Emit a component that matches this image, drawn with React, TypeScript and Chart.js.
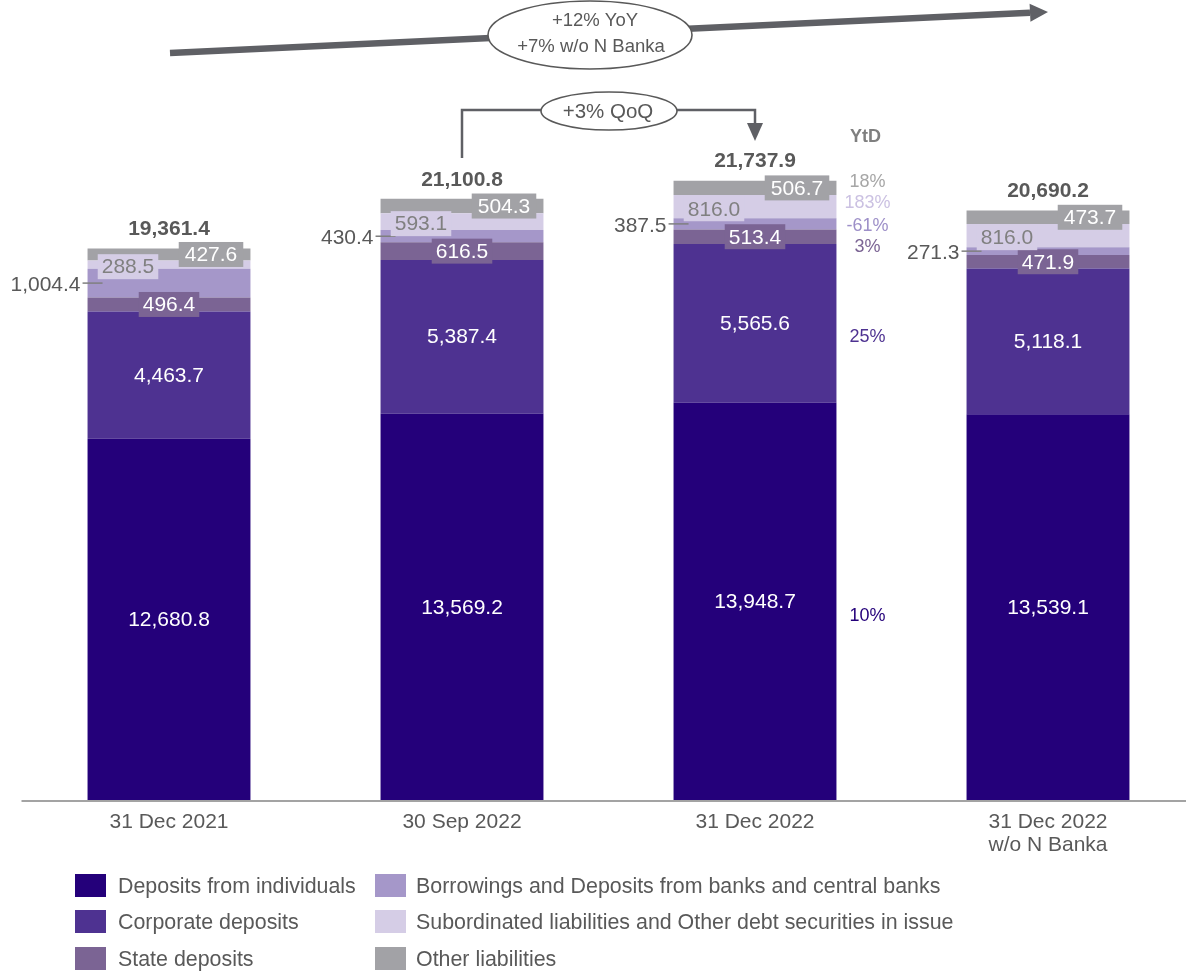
import React, { useEffect, useRef } from "react";
import { Chart, registerables } from "chart.js";

Chart.register(...registerables);

const categories = [["31 Dec 2021"], ["30 Sep 2022"], ["31 Dec 2022"], ["31 Dec 2022", "w/o N Banka"]];
const seriesNames = [
  "Deposits from individuals",
  "Corporate deposits",
  "State deposits",
  "Borrowings and Deposits from banks and central banks",
  "Subordinated liabilities and Other debt securities in issue",
  "Other liabilities",
];
const individuals = [12680.8, 13569.2, 13948.7, 13539.1];
const corporate = [4463.7, 5387.4, 5565.6, 5118.1];
const stateDeposits = [496.4, 616.5, 513.4, 471.9];
const borrowings = [1004.4, 430.4, 387.5, 271.3];
const subordinated = [288.5, 593.1, 816.0, 816.0];
const otherLiabilities = [427.6, 504.3, 506.7, 473.7];
const totals = [19361.4, 21100.8, 21737.9, 20690.2];
const ytdLabels = ["10%", "25%", "3%", "-61%", "183%", "18%"];
const yoyText = ["+12% YoY", "+7% w/o N Banka"];
const qoqText = "+3% QoQ";
const ytdTitle = "YtD";

const seriesColors = ["#24007a", "#4e3291", "#7b6494", "#a597c9", "#d5cde6", "#a2a2a6"];
const ytdColors = ["#24007a", "#4e3291", "#7b6494", "#9d8fc8", "#cbc1e2", "#a6a6a6"];
const ytdOffsets = [15, 14, 10, 2, -4, -6];

const FONT = "'Liberation Sans', Arial, sans-serif";
const GREY = "#595959";

const fmt = (v: number) =>
  v.toLocaleString("en-US", { minimumFractionDigits: 1, maximumFractionDigits: 1 });

function boxLabel(ctx: CanvasRenderingContext2D, text: string, cx: number, cy: number, bg: string, fg: string, pad: number) {
  ctx.font = `21px ${FONT}`;
  const w = ctx.measureText(text).width + pad;
  const h = 25;
  ctx.fillStyle = bg;
  ctx.fillRect(cx - w / 2, cy - h / 2, w, h);
  ctx.fillStyle = fg;
  ctx.textAlign = "center";
  ctx.textBaseline = "middle";
  ctx.fillText(text, cx, cy + 1);
}

function ellipse(ctx: CanvasRenderingContext2D, cx: number, cy: number, rx: number, ry: number) {
  ctx.beginPath();
  ctx.ellipse(cx, cy, rx, ry, 0, 0, Math.PI * 2);
  ctx.fillStyle = "#ffffff";
  ctx.fill();
  ctx.lineWidth = 1.6;
  ctx.strokeStyle = GREY;
  ctx.stroke();
}

const labelPlugin = {
  id: "customLabels",
  afterDatasetsDraw(chart: any) {
    const ctx: CanvasRenderingContext2D = chart.ctx;
    const area = chart.chartArea;
    ctx.save();

    // axis line
    ctx.strokeStyle = "#a3a3a3";
    ctx.lineWidth = 2;
    ctx.beginPath();
    ctx.moveTo(area.left - 1, area.bottom + 1);
    ctx.lineTo(chart.width, area.bottom + 1);
    ctx.stroke();

    const metas = chart.data.datasets.map((_: any, i: number) => chart.getDatasetMeta(i));
    const n = categories.length;
    for (let j = 0; j < n; j++) {
      for (let i = 0; i < metas.length; i++) {
        const el = metas[i].data[j];
        const { x, y, base, width } = el.getProps(["x", "y", "base", "width"], true);
        const cy = (y + base) / 2;
        const val = chart.data.datasets[i].data[j] as number;
        const text = fmt(val);
        const left = x - width / 2;
        if (i === 0 || i === 1) {
          ctx.font = `21px ${FONT}`;
          ctx.fillStyle = "#ffffff";
          ctx.textAlign = "center";
          ctx.textBaseline = "middle";
          ctx.fillText(text, x, cy + 1);
        } else if (i === 2) {
          boxLabel(ctx, text, x, cy, seriesColors[2], "#ffffff", 8);
        } else if (i === 3) {
          ctx.strokeStyle = "#7f7f7f";
          ctx.lineWidth = 1.5;
          ctx.beginPath();
          ctx.moveTo(left - 5, cy);
          ctx.lineTo(left + 15, cy);
          ctx.stroke();
          ctx.font = `21px ${FONT}`;
          ctx.fillStyle = GREY;
          ctx.textAlign = "right";
          ctx.textBaseline = "middle";
          ctx.fillText(text, left - 7, cy + 2);
        } else if (i === 4) {
          boxLabel(ctx, text, x - 41, cy + 2, seriesColors[4], "#808080", 8);
        } else if (i === 5) {
          boxLabel(ctx, text, x + 42, cy, seriesColors[5], "#ffffff", 12);
        }
      }
      // totals
      const topEl = metas[metas.length - 1].data[j];
      ctx.font = `bold 21px ${FONT}`;
      ctx.fillStyle = GREY;
      ctx.textAlign = "center";
      ctx.textBaseline = "middle";
      ctx.fillText(fmt(totals[j]), topEl.x, topEl.y - 19);
    }

    // YtD column next to the third bar
    const ref = metas[0].data[2];
    const ytdX = ref.x + ref.width / 2 + 31;
    ctx.font = `bold 18px ${FONT}`;
    ctx.fillStyle = "#7f7f7f";
    ctx.textAlign = "center";
    ctx.textBaseline = "middle";
    ctx.fillText(ytdTitle, ytdX - 2, 137);
    ctx.font = `18px ${FONT}`;
    for (let i = 0; i < metas.length; i++) {
      const el = metas[i].data[2];
      const cy = (el.y + el.base) / 2 + ytdOffsets[i];
      ctx.fillStyle = ytdColors[i];
      ctx.fillText(ytdLabels[i], ytdX, cy);
    }

    // YoY arrow
    const x0 = 170, y0 = 53, xt = 1048, yt = 12;
    const ang = Math.atan2(yt - y0, xt - x0);
    const headLen = 18, headW = 9;
    const bx = xt - headLen * Math.cos(ang), by = yt - headLen * Math.sin(ang);
    ctx.strokeStyle = "#5f6065";
    ctx.lineWidth = 6.5;
    ctx.lineCap = "butt";
    ctx.beginPath();
    ctx.moveTo(x0, y0);
    ctx.lineTo(bx, by);
    ctx.stroke();
    ctx.fillStyle = "#5f6065";
    ctx.beginPath();
    ctx.moveTo(xt, yt);
    ctx.lineTo(bx + headW * Math.sin(ang), by - headW * Math.cos(ang));
    ctx.lineTo(bx - headW * Math.sin(ang), by + headW * Math.cos(ang));
    ctx.closePath();
    ctx.fill();
    ellipse(ctx, 590, 35, 102, 34);
    ctx.font = `18.5px ${FONT}`;
    ctx.fillStyle = GREY;
    ctx.textAlign = "center";
    ctx.textBaseline = "middle";
    ctx.fillText(yoyText[0], 595, 21);
    ctx.fillText(yoyText[1], 591, 47);

    // QoQ bracket
    const q1 = metas[0].data[1].x;
    const q2 = metas[0].data[2].x;
    ctx.strokeStyle = "#5f6065";
    ctx.lineWidth = 2.5;
    ctx.beginPath();
    ctx.moveTo(q1, 158);
    ctx.lineTo(q1, 110);
    ctx.lineTo(q2, 110);
    ctx.lineTo(q2, 124);
    ctx.stroke();
    ctx.fillStyle = "#5f6065";
    ctx.beginPath();
    ctx.moveTo(q2 - 8, 123);
    ctx.lineTo(q2 + 8, 123);
    ctx.lineTo(q2, 141);
    ctx.closePath();
    ctx.fill();
    ellipse(ctx, 609, 111, 68, 19);
    ctx.font = `20.5px ${FONT}`;
    ctx.fillStyle = GREY;
    ctx.fillText(qoqText, 608, 112);

    // Legend
    const rows = [886, 922, 959];
    const cols = [{ sx: 75, tx: 118 }, { sx: 375, tx: 416 }];
    ctx.font = `21.4px ${FONT}`;
    ctx.textAlign = "left";
    for (let i = 0; i < seriesNames.length; i++) {
      const c = cols[Math.floor(i / 3)];
      const r = rows[i % 3];
      ctx.fillStyle = seriesColors[i];
      ctx.fillRect(c.sx, r - 12, 31, 23);
      ctx.fillStyle = GREY;
      ctx.textBaseline = "middle";
      ctx.fillText(seriesNames[i], c.tx, r + 1);
    }

    ctx.restore();
  },
};

export default function App() {
  const ref = useRef<HTMLCanvasElement | null>(null);
  useEffect(() => {
    if (!ref.current) return;
    const seriesValues = [individuals, corporate, stateDeposits, borrowings, subordinated, otherLiabilities];
    const chart = new Chart(ref.current, {
      type: "bar",
      data: {
        labels: categories,
        datasets: seriesValues.map((d, i) => ({
          label: seriesNames[i],
          data: d,
          backgroundColor: seriesColors[i],
          borderWidth: 0,
          categoryPercentage: 1,
          barPercentage: 0.556,
        })),
      },
      options: {
        animation: false,
        responsive: true,
        maintainAspectRatio: false,
        layout: { padding: { left: 22.5, right: 5.5, top: 0, bottom: 0 } },
        plugins: { legend: { display: false }, tooltip: { enabled: false } },
        scales: {
          x: {
            stacked: true,
            grid: { display: false, drawTicks: false },
            border: { display: false },
            ticks: {
              color: GREY,
              font: { family: FONT, size: 21, lineHeight: 1.1 },
              padding: 11,
              autoSkip: false,
              maxRotation: 0,
            },
            afterFit: (scale: any) => {
              scale.height = 172;
            },
          },
          y: {
            stacked: true,
            display: false,
            min: 0,
            max: 28080,
          },
        },
      },
      plugins: [labelPlugin],
    } as any);
    return () => chart.destroy();
  }, []);
  return (
    <div style={{ position: "absolute", left: 0, top: 0, width: 1186, height: 972, overflow: "hidden", background: "#fff" }}>
      <div style={{ position: "relative", width: 1200, height: 972 }}>
        <canvas ref={ref} />
      </div>
    </div>
  );
}
